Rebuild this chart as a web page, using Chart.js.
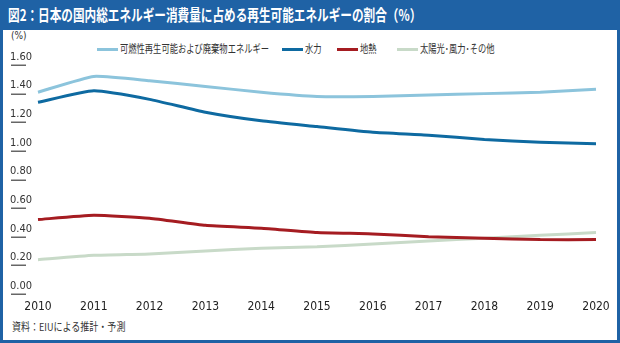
<!DOCTYPE html>
<html lang="ja">
<head>
<meta charset="utf-8">
<script src="https://cdn.jsdelivr.net/npm/chart.js@4/dist/chart.umd.min.js"></script>
<style>
  html, body { margin: 0; padding: 0; background: #fff; }
  #wrap { position: relative; width: 620px; height: 343px; overflow: hidden; background: #fff;
          font-family: "Noto Sans CJK JP", "Noto Sans", sans-serif; }
  #title { position: absolute; left: 0; top: 0; width: 620px; height: 30px; background: #1f62a5; }
  #title span { position: absolute; left: 8px; top: 3px; color: #fff; font-size: 15.5px; font-weight: 700;
                white-space: nowrap; transform: scaleX(0.75); transform-origin: left center; }
  #frame { position: absolute; left: 0; top: 30px; width: 614px; height: 310px;
           border: 3px solid #1f62a5; border-top: none; }
  #unit { position: absolute; left: 11px; top: 30px; font-size: 10px; color: #333;
          font-family: "Liberation Sans Narrow", "DejaVu Sans Condensed", Roboto, sans-serif; }
  #legend .item { position: absolute; top: 42px; height: 14px; }
  #legend .swatch { position: absolute; left: 0; top: 6px; width: 21px; height: 3px; }
  #legend .label { position: absolute; left: 23px; top: -2px; font-size: 11.5px; color: #333;
                   white-space: nowrap; transform: scaleX(0.72); transform-origin: left center; }
  #source { position: absolute; left: 12px; top: 318px; font-size: 11px; color: #333; white-space: nowrap;
            transform: scaleX(0.82); transform-origin: left center; }
  canvas { position: absolute; left: 0; top: 0; }
</style>
</head>
<body>
<div id="wrap">
  <div id="frame"></div>
  <div id="title"><span>図2：日本の国内総エネルギー消費量に占める再生可能エネルギーの割合（%）</span></div>
  <div id="unit">(%)</div>
  <div id="legend"></div>
  <div id="source">資料：EIUによる推計・予測</div>
  <canvas id="chart" width="620" height="343"></canvas>
</div>
<script>
const years = ["2010", "2011", "2012", "2013", "2014", "2015", "2016", "2017", "2018", "2019", "2020"];

const combustible = [1.41, 1.52, 1.49, 1.45, 1.41, 1.38, 1.38, 1.39, 1.40, 1.41, 1.43];
const hydro       = [1.34, 1.42, 1.36, 1.27, 1.21, 1.17, 1.13, 1.11, 1.08, 1.06, 1.05];
const geothermal  = [0.52, 0.55, 0.53, 0.48, 0.46, 0.43, 0.42, 0.40, 0.39, 0.38, 0.38];
const solarWind   = [0.24, 0.27, 0.28, 0.30, 0.32, 0.33, 0.35, 0.37, 0.39, 0.41, 0.43];

const seriesNames = ["可燃性再生可能および廃棄物エネルギー", "水力", "地熱", "太陽光･風力･その他"];
const seriesColors = ["#8cc4dc", "#0e6aa1", "#a51c21", "#c8dac8"];
const legendLeft = [97, 282, 337, 397];

const narrow = "'Liberation Sans Narrow', 'DejaVu Sans Condensed', Roboto, sans-serif";

// short rule under each value label on the left
const tickUnderline = {
  id: "tickUnderline",
  afterDraw(chart) {
    const { ctx } = chart;
    const y = chart.scales.y;
    ctx.save();
    ctx.strokeStyle = "#666";
    ctx.lineWidth = 1.5;
    y.ticks.forEach((t, i) => {
      const py = Math.round(y.getPixelForTick(i)) + 0.25;
      ctx.beginPath();
      ctx.moveTo(11, py);
      ctx.lineTo(26, py);
      ctx.stroke();
    });
    ctx.restore();
  }
};

const datasets = [combustible, hydro, geothermal, solarWind].map((values, i) => ({
  label: seriesNames[i],
  data: values,
  borderColor: seriesColors[i],
  backgroundColor: seriesColors[i],
  borderWidth: 3,
  pointRadius: 0,
  tension: 0.15
}));

const chart = new Chart(document.getElementById("chart"), {
  type: "line",
  data: { labels: years, datasets },
  options: {
    responsive: false,
    animation: false,
    layout: { padding: { left: 10, right: 24, top: 65, bottom: 29 } },
    plugins: { legend: { display: false }, tooltip: { enabled: false } },
    scales: {
      x: {
        offset: false,
        grid: { display: false, drawTicks: false },
        border: { display: false },
        ticks: { color: "#222", padding: 6, maxRotation: 0, autoSkip: false,
                 font: { family: narrow, size: 12 } },
        afterFit(scale) { scale.height = 20; }
      },
      y: {
        min: 0,
        max: 1.6,
        grid: { display: false, drawTicks: false },
        border: { display: false },
        ticks: { stepSize: 0.2, color: "#333", crossAlign: "far", labelOffset: -8,
                 font: { family: narrow, size: 11 },
                 callback: v => Number(v).toFixed(2) },
        afterFit(scale) { scale.width = 28; }
      }
    }
  },
  plugins: [tickUnderline]
});

// legend row built from the chart's datasets
const legend = document.getElementById("legend");
chart.data.datasets.forEach((ds, i) => {
  const item = document.createElement("div");
  item.className = "item";
  item.style.left = legendLeft[i] + "px";
  item.innerHTML = `<div class="swatch" style="background:${ds.borderColor}"></div><div class="label">${ds.label}</div>`;
  legend.appendChild(item);
});
</script>
</body>
</html>
